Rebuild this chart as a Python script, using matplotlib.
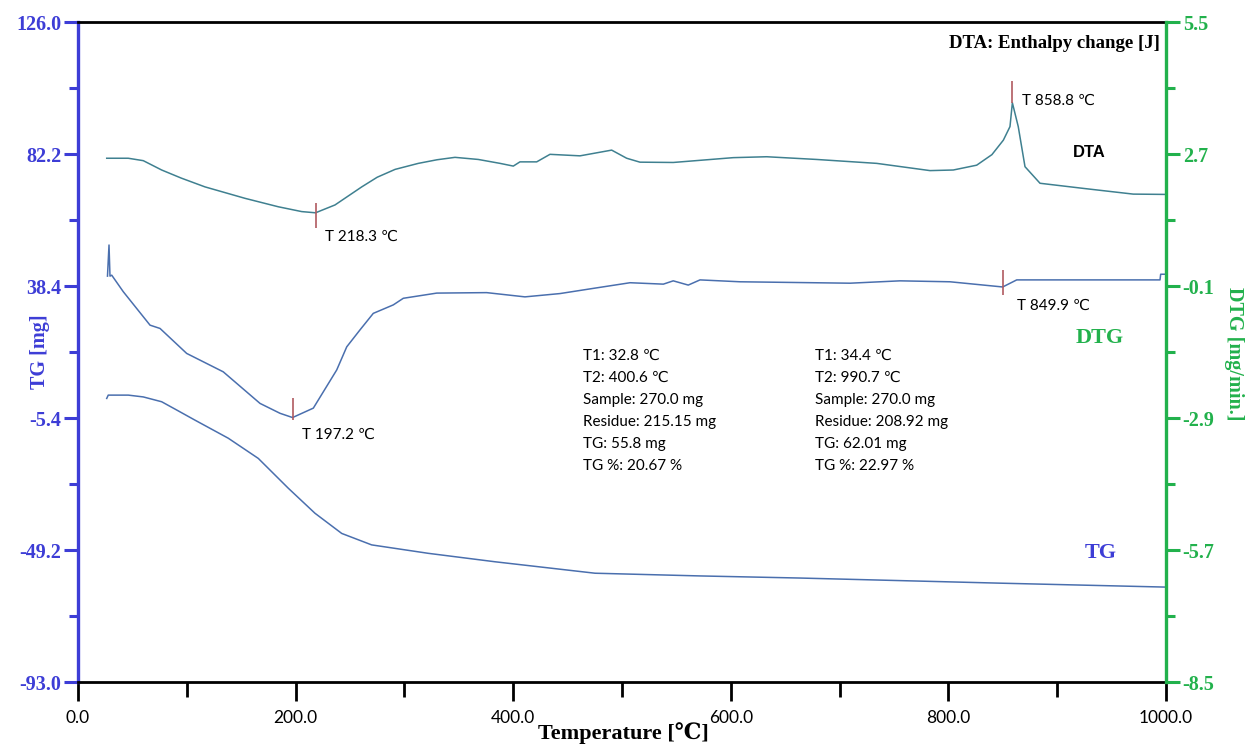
import numpy as np
import matplotlib
matplotlib.use("Agg")
import matplotlib.pyplot as plt
from matplotlib.ticker import MultipleLocator, FixedLocator

# temperature [C] and values
dta_t = [26.4, 46.2, 60.0, 76.9, 95.0, 116.7, 153.5, 184.1, 205.6, 218.3, 236.2, 260.8,
         275.0, 291.4, 312.8, 330.0, 346.5, 367.9, 387.9, 400.1, 406.2, 421.6, 433.8,
         461.4, 490.5, 504.3, 516.5, 547.1, 602.3, 633.0, 678.9, 734.1, 783.1, 804.5,
         826.0, 840.0, 850.5, 856.6, 858.8, 864.2, 870.4, 884.2, 924.0, 969.9, 999.1]
dta_v = [80.8, 80.8, 80.0, 76.9, 74.2, 71.3, 67.5, 64.7, 63.1, 62.7, 65.3, 71.3,
         74.5, 77.1, 79.1, 80.3, 81.1, 80.4, 79.1, 78.2, 79.6, 79.6, 82.1,
         81.6, 83.5, 80.8, 79.5, 79.4, 81.0, 81.3, 80.4, 79.1, 76.7, 76.9,
         78.5, 82.0, 86.8, 91.3, 99.2, 91.3, 78.0, 72.5, 70.8, 68.9, 68.8]

dtg_t = [27.1, 28.5, 29.4, 31.0, 41.6, 66.2, 75.4, 99.9, 133.5, 167.3, 185.7, 197.2,
         216.3, 237.8, 247.0, 259.2, 271.4, 289.8, 299.0, 329.7, 375.6, 410.8, 443.0,
         473.6, 507.4, 538.0, 547.1, 560.9, 571.7, 608.5, 709.6, 755.5, 801.5, 849.9,
         862.8, 994.5, 995.1, 999.1]
dtg_v = [0.11, 0.77, 0.11, 0.13, -0.22, -0.93, -1.00, -1.53, -1.92, -2.59, -2.80, -2.89,
         -2.69, -1.88, -1.39, -1.03, -0.68, -0.50, -0.36, -0.25, -0.24, -0.33, -0.26,
         -0.15, -0.03, -0.06, 0.01, -0.08, 0.03, -0.01, -0.04, 0.01, -0.01, -0.12,
         0.03, 0.03, 0.15, 0.15]

tg_t = [26.4, 27.8, 46.2, 60.0, 76.9, 90.0, 107.5, 138.1, 165.7, 193.3, 217.8, 242.4,
        269.9, 322.0, 383.3, 475.2, 571.7, 663.6, 847.4, 999.1]
tg_v = [1.1, 2.2, 2.2, 1.6, 0.0, -2.6, -6.1, -12.1, -18.8, -28.7, -37.0, -43.7,
        -47.5, -50.3, -53.1, -56.9, -57.8, -58.5, -60.2, -61.5]

left_ticks = [126.0, 82.2, 38.4, -5.4, -49.2, -93.0]
right_ticks = [5.5, 2.7, -0.1, -2.9, -5.7, -8.5]

info_1 = ["T1: 32.8 \u2103", "T2: 400.6 \u2103", "Sample: 270.0 mg",
          "Residue: 215.15 mg", "TG: 55.8 mg", "TG %: 20.67 %"]
info_2 = ["T1: 34.4 \u2103", "T2: 990.7 \u2103", "Sample: 270.0 mg",
          "Residue: 208.92 mg", "TG: 62.01 mg", "TG %: 22.97 %"]

BLUE = "#3d3dd6"
GREEN = "#22b14c"
LINE = "#4a6fae"
TEAL = "#3f8090"
MARK = "#b05a60"
serif = ["Liberation Serif", "DejaVu Serif", "DejaVu Sans"]
sans = ["Lato", "DejaVu Sans"]

fig = plt.figure(figsize=(12.5, 7.47), dpi=100)
ax = fig.add_axes([0.0624, 0.087, 0.8704, 0.8835])
ax2 = ax.twinx()

ax.plot(dta_t, dta_v, color=TEAL, lw=1.1)
ax.plot(tg_t, tg_v, color=LINE, lw=1.1)
ax2.plot(dtg_t, dtg_v, color=LINE, lw=1.1)

ax.set_xlim(0, 1000)
ax.set_ylim(-93, 126)
ax2.set_ylim(-8.5, 5.5)

# peak markers
ax.vlines(218.3, 57.6, 65.9, color=MARK, lw=1.2)
ax.vlines(858.8, 99.2, 106.5, color=MARK, lw=1.2)
ax2.vlines(197.2, -2.94, -2.48, color=MARK, lw=1.2)
ax2.vlines(849.9, -0.29, 0.24, color=MARK, lw=1.2)

ax.text(227.0, 54.7, "T 218.3 \u2103", family=sans, fontsize=11, va="center")
ax.text(867.6, 99.8, "T 858.8 \u2103", family=sans, fontsize=11, va="center")
ax2.text(863.1, -0.52, "T 849.9 \u2103", family=sans, fontsize=11, va="center")
ax2.text(205.9, -3.26, "T 197.2 \u2103", family=sans, fontsize=11, va="center")

for i, (a, b) in enumerate(zip(info_1, info_2)):
    yf = (682 - 356 - 22 * i) / 660
    ax.text(0.4642, yf, a, transform=ax.transAxes, family=sans, fontsize=11, va="center")
    ax.text(0.6774, yf, b, transform=ax.transAxes, family=sans, fontsize=11, va="center")

ax.text(0.929, 0.803, "DTA", transform=ax.transAxes, family="Liberation Sans",
        fontweight="bold", fontsize=12, ha="center", va="center")
ax.text(0.939, 0.521, "DTG", transform=ax.transAxes, family=serif, color=GREEN,
        fontweight="bold", fontsize=16, ha="center", va="center")
ax.text(0.940, 0.195, "TG", transform=ax.transAxes, family=serif, color=BLUE,
        fontweight="bold", fontsize=16, ha="center", va="center")
ax.text(0.9945, 0.968, "DTA: Enthalpy change [J]", transform=ax.transAxes, family=serif,
        fontweight="bold", fontsize=13.5, ha="right", va="center")

# spines
for s in ["top", "bottom"]:
    ax.spines[s].set_linewidth(2)
    ax.spines[s].set_color("black")
ax.spines["left"].set_color(BLUE)
ax.spines["left"].set_linewidth(2.4)
ax.spines["right"].set_visible(False)
for s in ["left", "top", "bottom"]:
    ax2.spines[s].set_visible(False)
ax2.spines["right"].set_color(GREEN)
ax2.spines["right"].set_linewidth(2.4)

# ticks
ax.xaxis.set_major_locator(MultipleLocator(200))
ax.xaxis.set_minor_locator(MultipleLocator(100))
ax.set_xticklabels([f"{v:.1f}" for v in ax.get_xticks()])
ax.tick_params(axis="x", which="major", length=14, width=2, color="black", pad=6,
               labelsize=12.5)
ax.tick_params(axis="x", which="minor", length=11, width=2, color="black")
for lab in ax.get_xticklabels():
    lab.set_family(sans)

ax.yaxis.set_major_locator(FixedLocator(left_ticks))
ax.yaxis.set_minor_locator(FixedLocator([v - 21.9 for v in left_ticks[:-1]]))
ax.set_yticklabels([f"{v:.1f}" for v in left_ticks])
ax.tick_params(axis="y", which="major", length=10, width=2.2, color=BLUE, pad=2,
               labelsize=14.5, labelcolor=BLUE)
ax.tick_params(axis="y", which="minor", length=6.5, width=2.2, color=BLUE)
for lab in ax.get_yticklabels():
    lab.set_family(serif)
    lab.set_fontweight("bold")

ax2.yaxis.set_major_locator(FixedLocator(right_ticks))
ax2.yaxis.set_minor_locator(FixedLocator([v - 1.4 for v in right_ticks[:-1]]))
ax2.set_yticklabels([f"{v:.1f}" for v in right_ticks])
ax2.tick_params(axis="y", which="major", length=10, width=2.2, color=GREEN, pad=2,
                labelsize=14.5, labelcolor=GREEN)
ax2.tick_params(axis="y", which="minor", length=6.5, width=2.2, color=GREEN)
for lab in ax2.get_yticklabels():
    lab.set_family(serif)
    lab.set_fontweight("bold")

fig.text(0.032, 0.529, "TG [mg]", family=serif, fontweight="bold", fontsize=14.5,
         color=BLUE, rotation=90, ha="center", va="center")
fig.text(0.987, 0.526, "DTG [mg/min.]", family=serif, fontweight="bold", fontsize=14.5,
         color=GREEN, rotation=-90, ha="center", va="center")
fig.text(0.499, 0.019, "Temperature [\u2103]", family=serif, fontweight="bold",
         fontsize=16, ha="center", va="center")

fig.savefig("out.png", dpi=100)
